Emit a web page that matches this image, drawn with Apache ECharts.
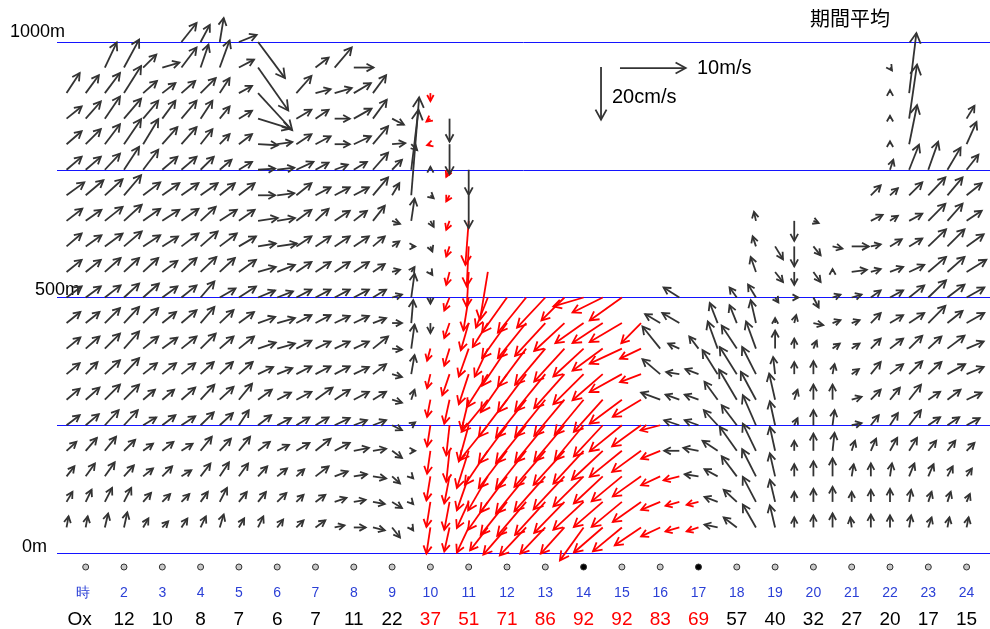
<!DOCTYPE html>
<html>
<head>
<meta charset="utf-8">
<script src="https://cdn.jsdelivr.net/npm/echarts@6.0.0/dist/echarts.min.js"></script>
<style>
html,body{margin:0;padding:0;background:#ffffff;}
#chart{width:990px;height:629px;}
</style>
</head>
<body>
<div id="chart"></div>
<script>
const _ = null;
// time of each profile (hour), 30-minute steps
const times = [0.5,1,1.5,2,2.5,3,3.5,4,4.5,5,5.5,6,6.5,7,7.5,8,8.5,9,9.5,10,10.5,11,11.5,12,
               12.5,13,13.5,14,14.5,15,15.5,16,16.5,17,17.5,18,18.5,19,19.5,20,20.5,21,21.5,22,22.5,23,23.5,24];
// heights (m)
const heights = [50,100,150,200,250,300,350,400,450,500,550,600,650,700,750,800,850,900,950,1000];
const gridHeights = [0,250,500,750,1000];

// horizontal wind u (m/s) and vertical wind w (cm/s) per height, 48 values each
const u1000 = [_,_,_,_,_,_,2.3,1.4,0.6,2.7,4.1,_, _,_,_,_,_,_,_,_,_,_,_,_, _,_,_,_,_,_,_,_,_,_,_,_, _,_,_,_,_,_,_,_,_,_,_,_];
const w1000 = [_,_,_,_,_,_,7.2,6.5,9.1,2.7,-13.7,_, _,_,_,_,_,_,_,_,_,_,_,_, _,_,_,_,_,_,_,_,_,_,_,_, _,_,_,_,_,_,_,_,_,_,_,_];
const u950 = [_,_,1.8,2.3,2.0,2.6,2.3,1.2,1.5,2.3,4.6,_, _,2.0,2.6,3.0,_,_,_,_,_,_,_,_, _,_,_,_,_,_,_,_,_,_,_,_, _,_,_,_,_,_,_,0.3,_,_,_,_];
const w950 = [_,_,9.5,10.6,4.9,1.9,7.6,8.7,10.3,3.0,-16.3,_, _,3.8,7.6,0,_,_,_,_,_,_,_,_, _,_,_,_,_,_,_,_,_,_,_,_, _,_,_,_,_,_,_,-1.1,_,_,_,_];
const u900 = [2.0,2.0,2.3,2.6,2.1,2.0,2.1,2.3,1.5,2.0,5.2,_, 2.3,2.3,2.6,2.6,2.0,_,_,0,_,_,_,_, _,_,_,_,_,_,_,_,_,_,_,_, _,_,_,_,_,_,_,0,1.1,_,_,_];
const w900 = [7.6,6.8,7.6,10.3,4.6,3.8,4.6,5.7,5.7,2.7,-14.1,_, 6.5,1.5,1.9,3.8,6.8,_,_,-3.0,_,_,_,_, _,_,_,_,_,_,_,_,_,_,_,_, _,_,_,_,_,_,_,1.1,22.8,_,_,_];
const u850 = [2.3,2.3,2.3,2.6,2.3,2.0,2.3,1.8,1.5,2.0,4.9,_, 2.3,2.0,2.3,2.7,2.1,1.8,_,-0.6,0,_,_,_, _,_,_,_,_,_,_,_,_,_,_,_, _,_,_,_,_,_,_,0,1.2,_,_,1.2];
const w850 = [4.6,6.5,8.4,7.6,6.8,6.8,6.8,6.8,4.6,3.0,-3.8,_, 3.4,3.4,0,3.8,7.2,-2.3,_,-1.1,-8.7,_,_,_, _,_,_,_,_,_,_,_,_,_,_,_, _,_,_,_,_,_,_,1.1,20.5,_,_,4.9];
const u800 = [2.3,2.3,2.3,2.6,2.3,2.3,2.3,1.8,1.5,2.0,3.0,2.3, 2.3,2.3,2.3,2.6,2.3,2.0,0.9,-0.5,0,_,_,_, _,_,_,_,_,_,_,_,_,_,_,_, _,_,_,_,_,_,_,0,1.2,_,_,1.5];
const w800 = [4.9,5.7,7.6,9.5,9.5,6.5,6.5,5.7,3.8,3.8,-0.4,0.8, 3.8,3.0,0,3.0,6.8,0.4,-2.3,-0.4,-11.4,_,_,_, _,_,_,_,_,_,_,_,_,_,_,_, _,_,_,_,_,_,_,1.1,14.8,_,_,8.4];
const u750 = [2.3,2.3,2.3,2.3,2.3,2.3,2.3,2.0,1.8,2.0,2.6,2.6, 2.6,2.0,2.0,2.0,2.3,1.5,1.1,0,-0.5,0,_,_, _,_,_,_,_,_,_,_,_,_,_,_, _,_,_,_,_,_,_,0.5,1.5,1.5,2.0,1.8];
const w750 = [4.9,4.9,6.1,8.7,7.6,4.9,4.9,4.9,3.8,3.0,0.4,0.8, 3.0,2.7,1.9,3.0,6.5,3.8,22.8,1.1,-2.7,-9.5,_,_, _,_,_,_,_,_,_,_,_,_,_,_, _,_,_,_,_,_,_,3.8,9.5,10.6,8.4,5.7];
const u700 = [2.7,2.7,2.7,2.6,2.6,2.6,2.6,2.6,2.3,2.4,2.6,2.6, 2.3,2.3,2.3,2.3,2.3,1.1,1.2,0.5,-0.5,0,_,_, _,_,_,_,_,_,_,_,_,_,_,_, _,_,_,_,_,_,1.5,1.2,2.0,2.6,2.3,2.3];
const w700 = [4.9,5.7,6.1,7.6,4.9,4.6,4.6,4.6,4.6,4.6,0,0.8, 4.6,3.0,3.0,3.0,6.8,4.6,37.2,-1.1,-2.3,-12.5,_,_, _,_,_,_,_,_,_,_,_,_,_,_, _,_,_,_,_,_,3.8,2.7,4.9,6.8,6.8,4.6];
const u650 = [2.4,2.4,2.7,2.7,2.6,2.6,2.6,2.3,2.6,2.4,3.0,2.7, 2.3,2.0,2.3,2.0,1.8,1.2,0.5,0.5,-0.5,-0.5,_,_, _,_,_,_,_,_,_,_,_,_,_,_, -0.3,_,0,0.8,_,_,1.8,1.2,2.0,2.6,2.3,2.3];
const w650 = [4.6,4.2,5.3,6.1,4.6,4.2,4.6,5.3,4.2,4.2,1.1,1.1, 4.2,4.6,3.8,3.8,5.7,-1.1,8.4,-2.3,-3.4,-16.7,_,_, _,_,_,_,_,_,_,_,_,_,_,_, 3.4,_,-7.6,-0.8,_,_,2.3,1.9,2.7,6.5,6.5,3.8];
const u600 = [2.3,2.4,2.7,2.7,2.6,2.4,2.6,2.6,2.6,2.6,2.7,3.0, 2.3,2.3,2.3,2.3,1.8,1.1,0.6,0.3,-0.5,-0.3,_,_, _,_,_,_,_,_,_,_,_,_,_,_, -0.5,1.2,0,1.1,1.5,2.6,1.5,1.8,2.0,2.7,2.6,2.6];
const w600 = [4.9,4.2,4.9,5.7,4.2,3.8,4.9,5.7,4.9,3.8,1.1,1.1, 3.8,3.8,3.8,3.8,3.8,1.9,0,-1.9,-3.8,-15.2,_,_, _,_,_,_,_,_,_,_,_,_,_,_, 3.8,-4.9,-7.6,-3.4,-0.8,0,0.8,2.7,3.0,6.5,6.5,4.6];
const u550 = [2.3,2.3,2.4,2.3,2.3,2.3,2.3,2.4,2.3,2.6,2.7,2.7, 2.3,2.3,2.3,2.3,1.8,1.2,0.5,0.3,-0.5,-0.3,-1.2,_, _,_,_,_,_,_,_,_,_,_,_,_, -0.8,1.2,0,1.1,0,2.3,1.5,2.0,2.3,2.7,2.6,3.0];
const w550 = [4.6,4.6,5.3,5.3,5.3,4.2,5.3,5.7,5.3,4.6,1.9,2.7, 3.8,3.8,3.8,3.8,3.0,0.8,1.9,-1.1,-4.9,-13.3,-18.2,_, _,_,_,_,_,_,_,_,_,_,_,_, 5.7,-3.8,-4.9,-3.8,1.1,0.8,1.1,1.9,2.7,5.7,5.7,4.6];
const u500 = [2.3,2.3,2.4,2.3,2.4,2.3,2.3,2.1,2.4,2.6,2.6,2.4, 2.3,2.3,2.3,2.3,2.0,1.5,0.5,0,-0.8,-0.8,-1.8,-3.8, -4.3,-4.3,-3.5,-4.6,-4.6,-4.9,_,_,-2.4,_,_,-1.1, -1.2,0.5,0.6,0.8,1.2,1.5,1.5,2.0,2.3,2.7,2.6,2.7];
const w500 = [4.2,4.2,4.6,5.3,5.3,4.2,4.6,6.1,3.4,4.2,2.7,2.3, 3.0,3.0,3.0,3.0,3.0,1.1,9.1,-2.3,-4.9,-12.5,-11.4,-13.3, -13.3,-11.4,-8.7,-3.4,-5.7,-8.7,_,_,3.8,_,_,3.8, 4.9,-1.9,0,-3.8,1.1,1.1,2.7,2.7,4.6,6.5,4.9,3.8];
const u450 = [2.1,2.1,2.3,2.3,2.3,2.1,2.3,2.1,2.1,2.3,2.6,2.7, 2.3,2.3,2.3,2.3,2.0,1.5,0.3,0,-0.8,-1.2,-2.3,-3.8, -4.3,-4.6,-4.6,-4.3,-4.6,-4.9,-3.0,-2.3,-2.6,_,-1.2,-1.1, -0.8,0,0.3,1.5,1.2,1.2,1.5,2.0,2.3,2.6,2.3,2.7];
const w450 = [4.2,4.2,5.7,6.1,5.7,4.2,4.9,6.1,4.9,4.2,2.3,1.9, 3.0,3.0,2.7,2.7,1.9,0,8.7,-3.8,-5.7,-10.3,-9.1,-13.3, -13.3,-12.5,-10.6,-7.6,-7.6,-7.2,-7.6,3.4,3.8,_,7.6,6.8, 8.7,1.9,3.0,-0.8,1.1,1.1,3.8,3.0,3.8,6.5,4.6,3.8];
const u400 = [2.1,2.1,2.3,2.3,2.3,2.3,2.3,2.3,2.1,2.3,2.7,2.7, 2.3,2.3,2.3,2.3,2.3,1.5,0.5,-0.5,-0.8,-1.5,-2.0,-3.8, -4.3,-4.6,-4.6,-4.6,-4.6,-4.9,-3.2,-2.7,-1.7,-1.4,-1.5,-2.3, -1.5,0,0,0.5,1.1,1.2,1.5,2.0,2.0,2.0,2.6,2.6];
const w400 = [4.2,4.6,5.7,6.5,4.6,4.2,4.6,5.7,4.6,4.6,2.3,1.9, 3.0,2.7,2.7,2.7,4.6,-0.4,9.1,-4.6,-6.5,-10.6,-10.6,-14.1, -14.4,-13.7,-12.5,-10.6,-8.4,-5.7,-3.8,8.4,1.9,4.6,10.3,8.7, 10.3,6.8,3.8,3.0,1.9,1.9,3.8,3.8,4.9,4.6,4.9,2.7];
const u350 = [2.0,1.8,2.3,2.3,2.1,2.1,2.1,2.0,2.0,2.1,2.3,2.3, 2.3,2.3,2.3,2.3,2.0,1.5,0.5,-0.5,-1.1,-1.5,-3.2,-4.0, -4.3,-4.6,-4.6,-4.6,-4.6,-4.9,-3.2,-2.7,-2.0,-2.0,-2.3,-2.6, -2.1,-0.3,0,0,0.3,1.1,1.5,2.0,2.0,2.0,2.7,2.6];
const w350 = [4.2,4.6,5.3,6.1,4.2,4.2,4.2,4.6,4.6,4.6,2.7,2.3, 3.0,3.0,3.0,2.7,3.8,-1.1,7.2,-5.3,-8.0,-11.4,-12.5,-14.4, -14.4,-14.1,-12.9,-11.4,-9.9,-6.8,-3.0,5.7,0.8,1.9,9.1,10.3, 10.3,6.5,4.6,4.9,3.8,1.9,4.6,3.8,4.9,4.6,3.8,2.7];
const u300 = [2.0,2.1,2.3,2.3,1.8,1.8,2.1,2.1,2.1,2.0,2.1,2.1, 2.3,2.6,2.3,2.3,2.0,1.5,0.5,-0.5,-0.8,-1.1,-4.0,-4.3, -4.6,-4.6,-4.6,-4.4,-4.4,-4.9,-4.3,-2.9,-2.1,-2.1,-2.0,-2.7, -2.3,-0.9,0.5,0,0,1.5,1.5,1.5,1.8,1.8,2.0,2.3];
const w300 = [4.2,4.6,5.7,5.7,3.8,3.8,4.6,5.7,4.9,6.1,3.8,2.7, 3.0,4.6,3.8,3.0,3.0,-1.1,3.8,-6.5,-9.1,-11.4,-12.2,-14.1, -14.4,-14.1,-13.7,-13.3,-12.2,-9.1,-6.5,2.7,1.9,1.9,6.8,11.4, 10.6,9.9,3.8,5.7,5.7,1.1,3.8,4.6,5.7,3.0,3.8,2.7];
const u250 = [2.0,2.0,2.1,2.1,2.0,2.0,2.1,2.0,2.0,1.5,2.0,2.1, 2.0,2.0,2.3,2.0,2.0,1.5,0.6,-0.5,-0.5,-1.5,-4.3,-4.3, -4.6,-4.6,-4.6,-4.4,-4.4,-4.9,-4.4,-3.0,-2.3,-2.1,-2.1,-2.3, -2.0,-0.8,0.5,0,0.3,1.5,1.2,1.2,1.8,1.8,1.8,2.0];
const w250 = [3.8,4.2,5.7,5.7,3.0,3.8,3.4,4.9,4.6,5.7,3.8,2.7, 3.0,3.0,2.7,1.9,1.9,-1.9,1.1,-8.0,-11.4,-13.7,-13.3,-14.4, -14.4,-14.1,-13.7,-13.3,-11.8,-9.9,-8.0,-1.9,1.9,1.9,5.7,7.6, 11.4,9.1,2.7,5.7,5.7,0.8,3.8,4.6,5.7,3.0,3.0,2.7];
const u200 = [1.5,1.7,1.7,1.7,1.5,1.7,1.7,1.7,1.7,1.7,1.8,1.8, 2.0,2.3,2.3,2.3,2.0,1.5,0.6,-0.5,-0.5,-1.8,-3.5,-4.3, -4.6,-4.7,-4.7,-4.6,-4.7,-4.9,-4.4,-2.9,-2.3,-2.3,-2.3,-2.6, -2.0,-0.8,0,0,0.3,0.5,0.8,1.1,1.2,1.2,1.2,1.2];
const w200 = [3.4,4.9,5.3,4.2,2.7,3.4,2.7,5.3,4.6,5.3,3.4,2.3, 3.0,4.6,3.0,1.1,0.8,-2.7,0,-8.7,-11.8,-14.1,-12.9,-14.1, -14.4,-13.7,-12.9,-12.5,-11.0,-9.9,-8.0,-3.0,0,1.1,3.8,9.1, 10.3,9.1,3.8,6.5,6.8,3.8,4.6,4.9,4.9,3.8,3.8,3.0];
const u150 = [1.2,1.4,1.5,1.5,1.5,1.5,1.5,1.5,1.4,1.4,1.4,1.5, 1.2,2.0,2.0,2.0,2.0,1.2,0.3,-0.6,-0.8,-1.8,-3.0,-4.1, -4.6,-4.7,-4.7,-4.6,-4.4,-4.6,-4.3,-2.9,-2.4,-2.1,-2.0,-2.3, -2.1,-0.8,0,0,0,0.3,0,0.3,0.8,0.8,0.8,0.8];
const w150 = [3.8,4.9,5.3,4.2,3.0,3.8,2.3,4.9,5.3,4.9,3.8,3.0, 2.7,3.8,1.9,0.8,-0.8,-2.7,-0.8,-9.1,-10.3,-12.9,-12.9,-13.7, -14.1,-13.3,-12.5,-11.4,-10.3,-9.5,-7.6,-3.4,-1.5,0.8,2.7,7.6, 10.3,8.7,4.6,5.7,6.8,4.6,4.9,4.9,4.9,4.6,3.8,3.0];
const u100 = [0.9,0.9,1.1,1.1,1.2,1.2,1.2,1.1,1.1,1.2,1.2,1.4, 1.1,1.5,1.8,1.8,1.8,1.5,0.3,-0.6,-0.8,-1.8,-3.0,-4.0, -4.4,-4.6,-4.6,-4.6,-4.4,-4.6,-4.3,-2.9,-2.1,-1.8,-2.0,-2.0, -2.0,-0.8,0,0,0,0,0,0,0.3,0.5,0.5,0.5];
const w100 = [3.8,4.6,5.3,5.3,3.4,3.0,3.0,3.8,5.3,3.8,3.8,3.4, 2.7,2.7,1.5,0.8,-0.8,-2.3,-0.8,-9.5,-10.6,-9.9,-10.6,-12.5, -12.9,-12.5,-11.8,-10.6,-9.5,-9.5,-7.6,-3.0,-1.5,-1.1,1.9,4.6, 9.5,8.4,3.8,4.9,5.7,3.8,4.6,4.9,4.6,3.8,3.8,3.0];
const u50 = [0.3,0.3,0.5,0.5,0.8,0.9,0.9,0.8,0.6,0.8,0.8,0.9, 1.1,1.5,1.5,1.8,1.8,1.2,0.3,-0.6,-0.8,-1.8,-2.7,-3.6, -4.0,-3.8,-3.6,-3.6,-4.4,-4.4,-4.0,-2.9,-2.1,-1.8,-2.0,-2.0, -2.0,-0.8,0,0,0,-0.2,0,0,0.3,0.5,0.3,0.3];
const w50 = [4.2,4.2,5.3,5.7,3.4,2.3,3.4,4.2,4.9,3.4,4.2,3.0, 2.7,2.7,0.8,0,-1.1,-3.8,-1.1,-9.9,-9.1,-9.5,-8.7,-10.3, -10.6,-9.9,-9.9,-12.5,-9.5,-9.1,-6.8,-3.4,-1.5,-1.5,1.1,3.8, 8.7,8.4,3.8,4.6,5.3,3.8,4.9,4.6,4.6,3.8,3.8,3.8];

// profiles drawn in red (time, lowest height, highest height)
const redTime = [10, 10, 10.5, 11, 11.5, 12, 12.5, 13, 13.5, 14, 14.5, 15, 15.5, 16, 16.5, 17];
const redFrom = [50, 800, 50, 50, 50, 50, 50, 50, 50, 50, 50, 50, 50, 50, 50, 50];
const redTo   = [400, 900, 750, 650, 550, 500, 500, 500, 500, 500, 500, 500, 500, 250, 150, 100];

// bottom rows
const hourTicks = [1,2,3,4,5,6,7,8,9,10,11,12,13,14,15,16,17,18,19,20,21,22,23,24];
const hourLabels = ['時','2','3','4','5','6','7','8','9','10','11','12','13','14','15','16','17','18','19','20','21','22','23','24'];
const oxHours = [2,3,4,5,6,7,8,9,10,11,12,13,14,15,16,17,18,19,20,21,22,23,24];
const oxValues = [12,10,8,7,6,7,11,22,37,51,71,86,92,92,83,69,57,40,32,27,20,17,15];
const oxRedHours = [10,11,12,13,14,15,16,17];
const filledHours = [14,17];

// scale references
const refU = [10, 0];   // m/s
const refW = [0, -20];  // cm/s

const U = [u50,u100,u150,u200,u250,u300,u350,u400,u450,u500,u550,u600,u650,u700,u750,u800,u850,u900,u950,u1000];
const W = [w50,w100,w150,w200,w250,w300,w350,w400,w450,w500,w550,w600,w650,w700,w750,w800,w850,w900,w950,w1000];

// drawing scale: 10 m/s ~ 1.715 h on the time axis, 20 cm/s ~ 103 m on the height axis
const HOURS_PER_MS = 0.1715;
const METERS_PER_CMS = 5.155;
const HEAD_ANG = 0.50;
const LW = 1.8;
const FONT = "'Liberation Sans', Arial, sans-serif";
const X_MIN = 0.2507, X_MAX = 24.611;

function isRed(t, h) {
  for (let k = 0; k < redTime.length; k++) {
    if (redTime[k] === t && h >= redFrom[k] && h <= redTo[k]) return 1;
  }
  return 0;
}

const arrowData = [];
for (let i = 0; i < heights.length; i++) {
  for (let j = 0; j < times.length; j++) {
    const u = U[i][j], w = W[i][j];
    if (u === null || w === null) continue;
    arrowData.push([times[j], heights[i], u, w, isRed(times[j], heights[i])]);
  }
}

function arrowGroup(p0, p1, color, fixedHead) {
  const dx = p1[0] - p0[0], dy = p1[1] - p0[1];
  const len = Math.sqrt(dx * dx + dy * dy);
  if (len < 0.3) return null;
  const head = fixedHead || Math.max(6.5, Math.min(11.5, 6 + 0.1 * len));
  const bx = -dx / len, by = -dy / len;
  const c = Math.cos(HEAD_ANG), s = Math.sin(HEAD_ANG);
  const w1 = [p1[0] + head * (bx * c - by * s), p1[1] + head * (bx * s + by * c)];
  const w2 = [p1[0] + head * (bx * c + by * s), p1[1] + head * (-bx * s + by * c)];
  return {
    type: 'group',
    children: [
      { type: 'line', shape: { x1: p0[0], y1: p0[1], x2: p1[0], y2: p1[1] },
        style: { stroke: color, lineWidth: LW, fill: null } },
      { type: 'polyline', shape: { points: [w1, p1.slice(), w2] },
        style: { stroke: color, lineWidth: LW, fill: null } }
    ]
  };
}

function renderArrow(params, api) {
  const t = api.value(0), h = api.value(1), u = api.value(2), w = api.value(3), red = api.value(4);
  const p0 = api.coord([t, h]);
  const p1 = api.coord([t + u * HOURS_PER_MS, h + w * METERS_PER_CMS]);
  return arrowGroup(p0, p1, red ? '#ff0000' : '#333333');
}

const CIRCLE_H = -27.4, HOUR_H = -78.5, OX_H = -131;

const circleData = hourTicks.map(h => [h, CIRCLE_H, filledHours.indexOf(h) >= 0 ? 1 : 0]);
const hourData = hourTicks.map((h, i) => [h, HOUR_H, i]);
const oxData = [[1, OX_H, -1]].concat(oxHours.map((h, i) => [h, OX_H, i]));
const refData = [[14.95, 949, refU[0], refW[0]], [14.455, 951, refU[1], refW[1]]];
const lineData = gridHeights.map(h => [X_MIN, h]);

const chart = echarts.init(document.getElementById('chart'), null, { renderer: 'canvas' });
chart.setOption({
  animation: false,
  backgroundColor: '#ffffff',
  textStyle: { fontFamily: FONT },
  grid: { left: 57, right: 0, top: 42, bottom: 76, outerBoundsMode: 'none', containLabel: false },
  xAxis: { type: 'value', min: X_MIN, max: X_MAX, show: false },
  yAxis: {
    type: 'value', min: 0, max: 1000, interval: 250,
    axisLine: { show: false }, axisTick: { show: false }, axisLabel: { show: false },
    splitLine: { show: false }
  },
  series: [
    {
      type: 'custom', name: 'levels', coordinateSystem: 'cartesian2d', clip: false, silent: true,
      data: lineData, encode: { x: 0, y: 1 }, z: 1,
      renderItem: function (params, api) {
        const h = api.value(1);
        const a = api.coord([X_MIN, h]), b = api.coord([X_MAX, h]);
        const y = Math.round(a[1] - 0.01) + 0.5;
        return { type: 'line', shape: { x1: a[0], y1: y, x2: b[0], y2: y },
          style: { stroke: '#1414ff', lineWidth: 1 } };
      }
    },
    {
      type: 'custom', name: 'wind', coordinateSystem: 'cartesian2d', clip: false,
      renderItem: renderArrow, data: arrowData, encode: { x: 0, y: 1 }, silent: true, z: 3
    },
    {
      type: 'custom', name: 'scale', coordinateSystem: 'cartesian2d', clip: false, silent: true,
      data: refData, encode: { x: 0, y: 1 },
      renderItem: function (params, api) {
        const t = api.value(0), h = api.value(1), u = api.value(2), w = api.value(3);
        const p0 = api.coord([t, h]);
        const p1 = api.coord([t + u * HOURS_PER_MS, h + w * METERS_PER_CMS]);
        return arrowGroup(p0, p1, '#333333', 11.5);
      }
    },
    {
      type: 'custom', name: 'marks', coordinateSystem: 'cartesian2d', clip: false, silent: true,
      data: circleData, encode: { x: 0, y: 1 },
      renderItem: function (params, api) {
        const p = api.coord([api.value(0), api.value(1)]);
        const filled = api.value(2);
        return { type: 'circle', shape: { cx: p[0], cy: p[1], r: 3 },
          style: { fill: filled ? '#000000' : '#c8c8c8', stroke: '#333333', lineWidth: 1 } };
      }
    },
    {
      type: 'custom', name: 'hours', coordinateSystem: 'cartesian2d', clip: false, silent: true,
      data: hourData, encode: { x: 0, y: 1 },
      renderItem: function (params, api) {
        const i = api.value(2);
        const p = api.coord([api.value(0) - (i === 0 ? 0.08 : 0), api.value(1)]);
        return { type: 'text', x: p[0], y: p[1],
          style: { text: hourLabels[i], fill: '#2a3fd6', font: '14px ' + FONT, align: 'center', verticalAlign: 'middle' } };
      }
    },
    {
      type: 'custom', name: 'ox', coordinateSystem: 'cartesian2d', clip: false, silent: true,
      data: oxData, encode: { x: 0, y: 1 },
      renderItem: function (params, api) {
        const idx = api.value(2);
        let txt = 'Ox', col = '#000000', dt = -0.16;
        if (idx >= 0) {
          txt = String(oxValues[idx]);
          col = oxRedHours.indexOf(oxHours[idx]) >= 0 ? '#ff0000' : '#000000';
          dt = 0;
        }
        const p = api.coord([api.value(0) + dt, api.value(1)]);
        return { type: 'text', x: p[0], y: p[1],
          style: { text: txt, fill: col, font: '19px ' + FONT, align: 'center', verticalAlign: 'middle' } };
      }
    }
  ],
  graphic: [
    { type: 'text', left: 10, top: 23, style: { text: '1000m', fill: '#000', font: '18px ' + FONT } },
    { type: 'text', left: 35, top: 281, style: { text: '500m', fill: '#000', font: '18px ' + FONT } },
    { type: 'text', left: 22, top: 538, style: { text: '0m', fill: '#000', font: '18px ' + FONT } },
    { type: 'text', left: 697, top: 58, style: { text: '10m/s', fill: '#000', font: '20px ' + FONT } },
    { type: 'text', left: 612, top: 87, style: { text: '20cm/s', fill: '#000', font: '20px ' + FONT } },
    { type: 'text', left: 810, top: 8, style: { text: '期間平均', fill: '#000', font: "20px 'Noto Sans CJK JP', sans-serif" } }
  ]
});
</script>
</body>
</html>
